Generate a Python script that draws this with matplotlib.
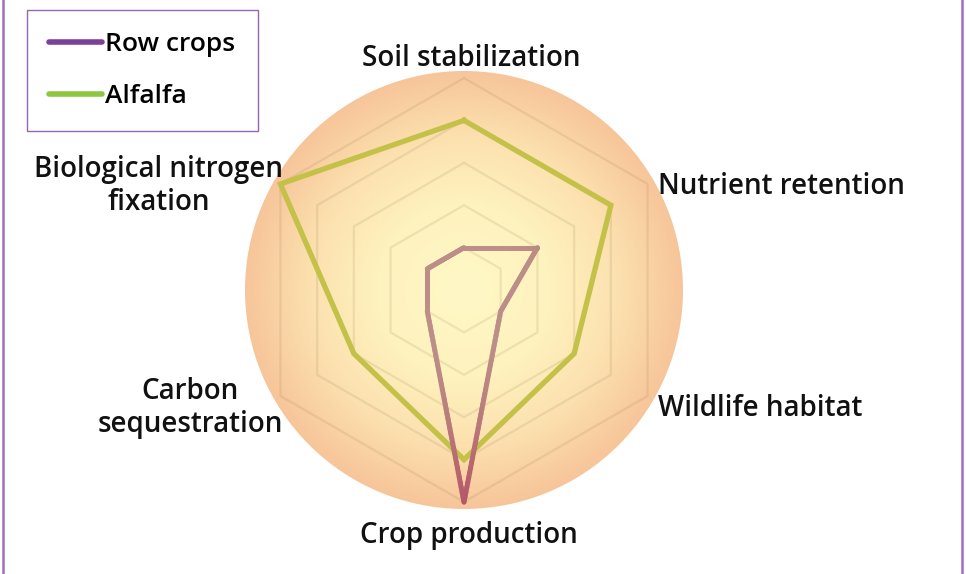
import numpy as np
import matplotlib
matplotlib.use("Agg")
import matplotlib.pyplot as plt
from matplotlib.colors import LinearSegmentedColormap, to_rgb
from matplotlib.collections import LineCollection
from matplotlib.lines import Line2D
from matplotlib.patches import Circle

# ---- data ----
categories = ["Soil stabilization", "Nutrient retention", "Wildlife habitat",
              "Crop production", "Carbon\nsequestration", "Biological nitrogen\nfixation"]
row_crops = [1, 2, 1, 5, 1, 1]
alfalfa = [4, 4, 3, 4, 3, 5]
series_names = ["Row crops", "Alfalfa"]
grid_levels = [1, 2, 3, 4, 5]

W, H = 966, 574
DPI = 100
FONT = "Open Sans"
FS = 20

fig = plt.figure(figsize=(W / DPI, H / DPI), dpi=DPI)
fig.patch.set_facecolor("white")

cx, cy, R = 464, 290, 219          # pixel center and background radius
rmax = 5 * R / 212.0
rect = [(cx - R) / W, (H - cy - R) / H, 2 * R / W, 2 * R / H]

# background radial gradient (cartesian axes behind the radar)
bax = fig.add_axes(rect, zorder=0)
bax.set_axis_off()
bg_cmap = LinearSegmentedColormap.from_list(
    "bg", [(0.0, "#FFF8C6"), (0.4, "#FEF2BE"), (0.7, "#FCE1AF"), (1.0, "#F7C59A")])
g = np.linspace(-1, 1, 600)
GX, GY = np.meshgrid(g, g)
im = bax.imshow(np.hypot(GX, GY), cmap=bg_cmap, vmin=0, vmax=1, extent=(-1, 1, -1, 1),
                interpolation="bilinear")
clip = Circle((0, 0), 1, transform=bax.transData)
im.set_clip_path(clip)
bax.set_xlim(-1, 1)
bax.set_ylim(-1, 1)

ax = fig.add_axes(rect, projection="polar", zorder=1)
ax.patch.set_alpha(0)
ax.set_theta_offset(np.pi / 2)
ax.set_theta_direction(-1)
ax.set_ylim(0, rmax)
ax.set_axis_off()

n = len(categories)
angles = np.arange(n) * 2 * np.pi / n
ang_c = np.append(angles, angles[0])

# hexagonal grid
for lv in grid_levels:
    ax.plot(ang_c, [lv] * len(ang_c), color=(0.47, 0.39, 0.24, 0.12), lw=1.6, zorder=1)

# Alfalfa
alf = np.append(alfalfa, alfalfa[0])
ax.plot(ang_c, alf, color="#C4C149", lw=3.8, solid_joinstyle="miter", zorder=3)

# Row crops: colour shifts with distance from the centre
rc = np.append(row_crops, row_crops[0])
c_in = np.array(to_rgb("#BC8E87"))
c_out = np.array(to_rgb("#B45767"))
segs, cols = [], []
for i in range(n):
    t = np.linspace(0, 1, 40)
    x0, y0 = rc[i] * np.sin(ang_c[i]), rc[i] * np.cos(ang_c[i])
    x1, y1 = rc[i + 1] * np.sin(ang_c[i + 1]), rc[i + 1] * np.cos(ang_c[i + 1])
    xs, ys = x0 + (x1 - x0) * t, y0 + (y1 - y0) * t
    rs = np.hypot(xs, ys)
    ts = np.arctan2(xs, ys)
    pts = np.column_stack([ts, rs])
    for k in range(len(t) - 1):
        segs.append([pts[k], pts[k + 1]])
        f = np.clip(((rs[k] + rs[k + 1]) / 2 - 1.5) / 3.5, 0, 1) ** 1.3
        cols.append(c_in + (c_out - c_in) * f)
lc = LineCollection(segs, colors=cols, linewidths=3.6, capstyle="round", joinstyle="round", zorder=4)
ax.add_collection(lc)

# category labels (pixel positions)
txt = dict(fontsize=FS, fontweight="semibold", family=FONT, color="#111111")
label_pos = [(471, 58, "center"), (658, 186, "left"), (658, 408, "left"),
             (469, 536, "center"), (190, 408, "center"), (159, 186, "center")]
for lab, (x, y, ha) in zip(categories, label_pos):
    fig.text(x / W, 1 - y / H, lab, ha=ha, va="center", multialignment="center",
             linespacing=1.2, **txt)

# legend
handles = [Line2D([], [], color="#7E3F98", lw=4, solid_capstyle="round"),
           Line2D([], [], color="#8DC63F", lw=4, solid_capstyle="round")]
leg = fig.legend(handles, series_names, loc="upper left",
                 bbox_to_anchor=(27 / W, 1 - 10 / H), bbox_transform=fig.transFigure,
                 frameon=True, fancybox=False, borderpad=0.85, handlelength=2.0,
                 handletextpad=0.12, labelspacing=1.0, borderaxespad=0,
                 prop=dict(family=FONT, weight="semibold", size=FS - 1))
leg.get_frame().set_edgecolor("#7E3F98")
leg.get_frame().set_linewidth(1.0)

# side border lines
for x in (3, 962):
    fig.add_artist(Line2D([x / W, x / W], [0, 1], color="#A06EBE", lw=1.8,
                          transform=fig.transFigure))

fig.savefig("out.png", dpi=DPI)
